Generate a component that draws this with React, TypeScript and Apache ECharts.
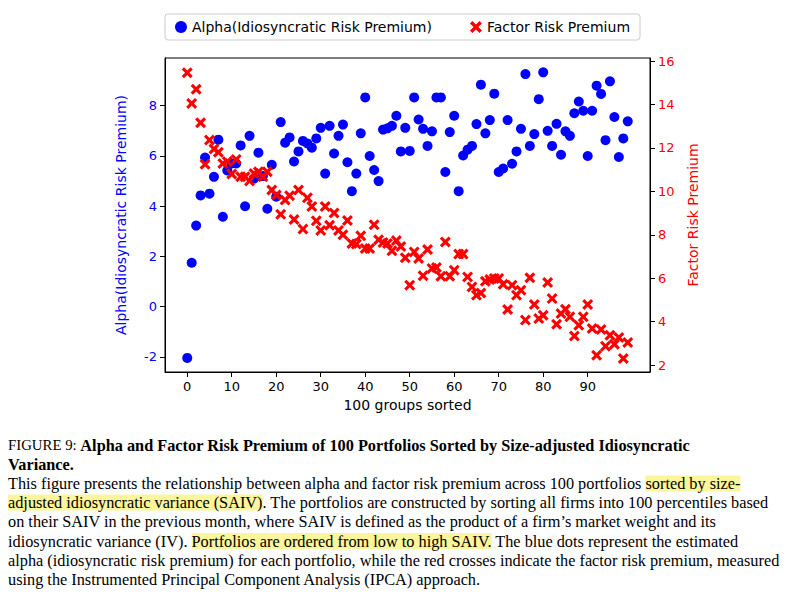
import React, { useEffect, useRef } from "react";
import * as echarts from "echarts";

const groups: number[] = Array.from({ length: 100 }, (_, i) => i);
const alphaValues = [
  -2.04, 1.75, 3.23, 4.43, 5.94, 4.5, 5.17, 6.65, 3.58, 5.42,
  5.7, 5.7, 6.42, 4.0, 6.8, 5.1, 6.13, 5.2, 3.9, 5.65,
  4.38, 7.35, 6.53, 6.74, 5.78, 6.18, 6.6, 6.5, 6.33, 6.7,
  7.12, 5.3, 7.2, 6.1, 6.8, 7.25, 5.75, 4.6, 5.3, 6.9,
  8.33, 6.0, 5.44, 5.0, 7.05, 7.1, 7.2, 7.6, 6.18, 7.12,
  6.2, 8.33, 7.45, 7.08, 6.4, 6.98, 8.33, 8.33, 5.36, 6.95,
  7.6, 4.6, 6.02, 6.25, 6.4, 7.27, 8.84, 6.9, 7.43, 8.48,
  5.36, 5.5, 7.43, 5.69, 6.18, 7.08, 9.26, 6.4, 6.87, 8.26,
  9.33, 7.0, 6.4, 7.28, 6.05, 6.98, 6.8, 7.7, 8.17, 7.8,
  6.0, 7.8, 8.8, 8.47, 6.63, 8.97, 7.55, 5.96, 6.7, 7.38,
];
const factorValues = [
  15.46, 14.05, 14.7, 13.16, 11.25, 12.36, 11.95, 11.8, 11.28, 11.37,
  10.8, 11.47, 10.67, 10.67, 10.48, 10.82, 10.9, 10.67, 10.9, 10.06,
  9.83, 8.94, 9.6, 9.8, 8.7, 10.06, 8.26, 9.7, 9.3, 8.64,
  8.2, 9.3, 8.44, 9.0, 8.2, 8.0, 8.66, 7.6, 7.57, 7.95,
  7.37, 7.37, 8.46, 7.77, 7.64, 7.6, 7.26, 7.73, 7.46, 6.94,
  5.68, 7.21, 6.91, 6.11, 7.32, 6.45, 6.49, 6.09, 7.67, 6.09,
  6.37, 7.11, 7.11, 6.06, 5.6, 5.22, 5.32, 5.86, 5.94, 5.99,
  5.99, 5.72, 4.56, 5.68, 5.22, 5.45, 4.07, 6.02, 4.79, 4.14,
  4.29, 5.8, 5.06, 3.88, 4.37, 4.57, 4.22, 3.34, 3.83, 4.22,
  4.79, 3.68, 2.45, 3.64, 2.87, 3.37, 2.96, 3.27, 2.3, 3.04,
];
const xTicks = [0, 10, 20, 30, 40, 50, 60, 70, 80, 90];
const leftTicks = [-2, 0, 2, 4, 6, 8];
const rightTicks = [2, 4, 6, 8, 10, 12, 14, 16];

const crossPath =
  "path://M0,2 L2,0 L5,3 L8,0 L10,2 L7,5 L10,8 L8,10 L5,7 L2,10 L0,8 L3,5 Z";

const SERIF = "'Liberation Serif', serif";
const FS = 16.3;

const captionLines: { t: string; s: string }[][] = [
  [
    { t: "Figure 9: ", s: "sc" },
    { t: "Alpha and Factor Risk Premium of 100 Portfolios Sorted by Size-adjusted Idiosyncratic", s: "b" },
  ],
  [{ t: "Variance.", s: "b" }],
  [
    { t: "This figure presents the relationship between alpha and factor risk premium across 100 portfolios ", s: "n" },
    { t: "sorted by size-", s: "h" },
  ],
  [
    { t: "adjusted idiosyncratic variance (SAIV)", s: "h" },
    { t: ". The portfolios are constructed by sorting all firms into 100 percentiles based", s: "n" },
  ],
  [{ t: "on their SAIV in the previous month, where SAIV is defined as the product of a firm\u2019s market weight and its", s: "n" }],
  [
    { t: "idiosyncratic variance (IV). ", s: "n" },
    { t: "Portfolios are ordered from low to high SAIV.", s: "h" },
    { t: " The blue dots represent the estimated", s: "n" },
  ],
  [{ t: "alpha (idiosyncratic risk premium) for each portfolio, while the red crosses indicate the factor risk premium, measured", s: "n" }],
  [{ t: "using the Instrumented Principal Component Analysis (IPCA) approach.", s: "n" }],
];

export default function App() {
  const ref = useRef<HTMLDivElement>(null);
  useEffect(() => {
    if (!ref.current) return;
    const chart = echarts.init(ref.current, null, { renderer: "svg" });
    const rich = {
      n: { fontFamily: SERIF, fontSize: FS, color: "#000" },
      b: { fontFamily: SERIF, fontSize: FS, color: "#000", fontWeight: "bold" },
      sc: { fontFamily: SERIF, fontSize: FS - 1.5, color: "#000" },
      h: { fontFamily: SERIF, fontSize: FS, color: "#000", backgroundColor: "#fbf59b" },
    };
    const graphics = captionLines.map((line, i) => ({
      type: "text",
      left: 0,
      top: 429 + i * 19.2,
      style: {
        text: line
          .map((seg) => `{${seg.s}|${seg.s === "sc" ? seg.t.toUpperCase() : seg.t}}`)
          .join(""),
        rich,
      },
    }));
    chart.setOption({
      animation: false,
      textStyle: { fontFamily: "'DejaVu Sans', sans-serif" },
      grid: {
        left: 157,
        right: 147,
        top: 50,
        bottom: 220,
        show: true,
        borderColor: "#000",
        borderWidth: 1,
        backgroundColor: "transparent",
      },
      legend: {
        top: 6,
        left: "center",
        itemWidth: 12,
        itemHeight: 12,
        itemGap: 38,
        padding: [6, 10],
        borderColor: "#ccc",
        borderWidth: 1,
        borderRadius: 3,
        textStyle: { fontSize: 14, color: "#000", fontFamily: "'DejaVu Sans', sans-serif" },
        data: [
          { name: "Alpha(Idiosyncratic Risk Premium)", icon: "circle" },
          { name: "Factor Risk Premium", icon: crossPath },
        ],
      },
      xAxis: {
        type: "value",
        min: -5,
        max: 104,
        name: "100 groups sorted",
        nameLocation: "middle",
        nameGap: 26,
        nameTextStyle: { fontSize: 14, color: "#000" },
        splitLine: { show: false },
        axisLine: { onZero: false, lineStyle: { color: "#000" } },
        axisTick: { customValues: xTicks, length: 5, lineStyle: { color: "#000" } },
        axisLabel: { customValues: xTicks, fontSize: 13, color: "#000" },
      },
      yAxis: [
        {
          type: "value",
          min: -2.6,
          max: 9.9,
          name: "Alpha(Idiosyncratic Risk Premium)",
          nameLocation: "middle",
          nameGap: 37,
          nameRotate: 90,
          nameTextStyle: { fontSize: 14, color: "#0000ff" },
          splitLine: { show: false },
          axisLine: { show: true, onZero: false, lineStyle: { color: "#000" } },
          axisTick: { show: true, customValues: leftTicks, length: 5, lineStyle: { color: "#000" } },
          axisLabel: { customValues: leftTicks, fontSize: 13, color: "#0000ff" },
        },
        {
          type: "value",
          min: 1.68,
          max: 16.14,
          position: "right",
          name: "Factor Risk Premium",
          nameLocation: "middle",
          nameGap: 36,
          nameRotate: 90,
          nameTextStyle: { fontSize: 14, color: "#ff0000" },
          splitLine: { show: false },
          axisLine: { show: true, onZero: false, lineStyle: { color: "#000" } },
          axisTick: { show: true, customValues: rightTicks, length: 5, lineStyle: { color: "#000" } },
          axisLabel: { customValues: rightTicks, fontSize: 13, color: "#ff0000" },
        },
      ],
      series: [
        {
          name: "Alpha(Idiosyncratic Risk Premium)",
          type: "scatter",
          yAxisIndex: 0,
          symbol: "circle",
          symbolSize: 10,
          itemStyle: { color: "#0000ff", opacity: 1 },
          data: groups.map((g, i) => [g, alphaValues[i]]),
        },
        {
          name: "Factor Risk Premium",
          type: "scatter",
          yAxisIndex: 1,
          symbol: crossPath,
          symbolSize: 11,
          itemStyle: { color: "#ff0000", opacity: 1 },
          data: groups.map((g, i) => [g, factorValues[i]]),
        },
      ],
      graphic: graphics,
    });
    return () => chart.dispose();
  }, []);
  return <div ref={ref} style={{ width: 789, height: 584 }} />;
}
